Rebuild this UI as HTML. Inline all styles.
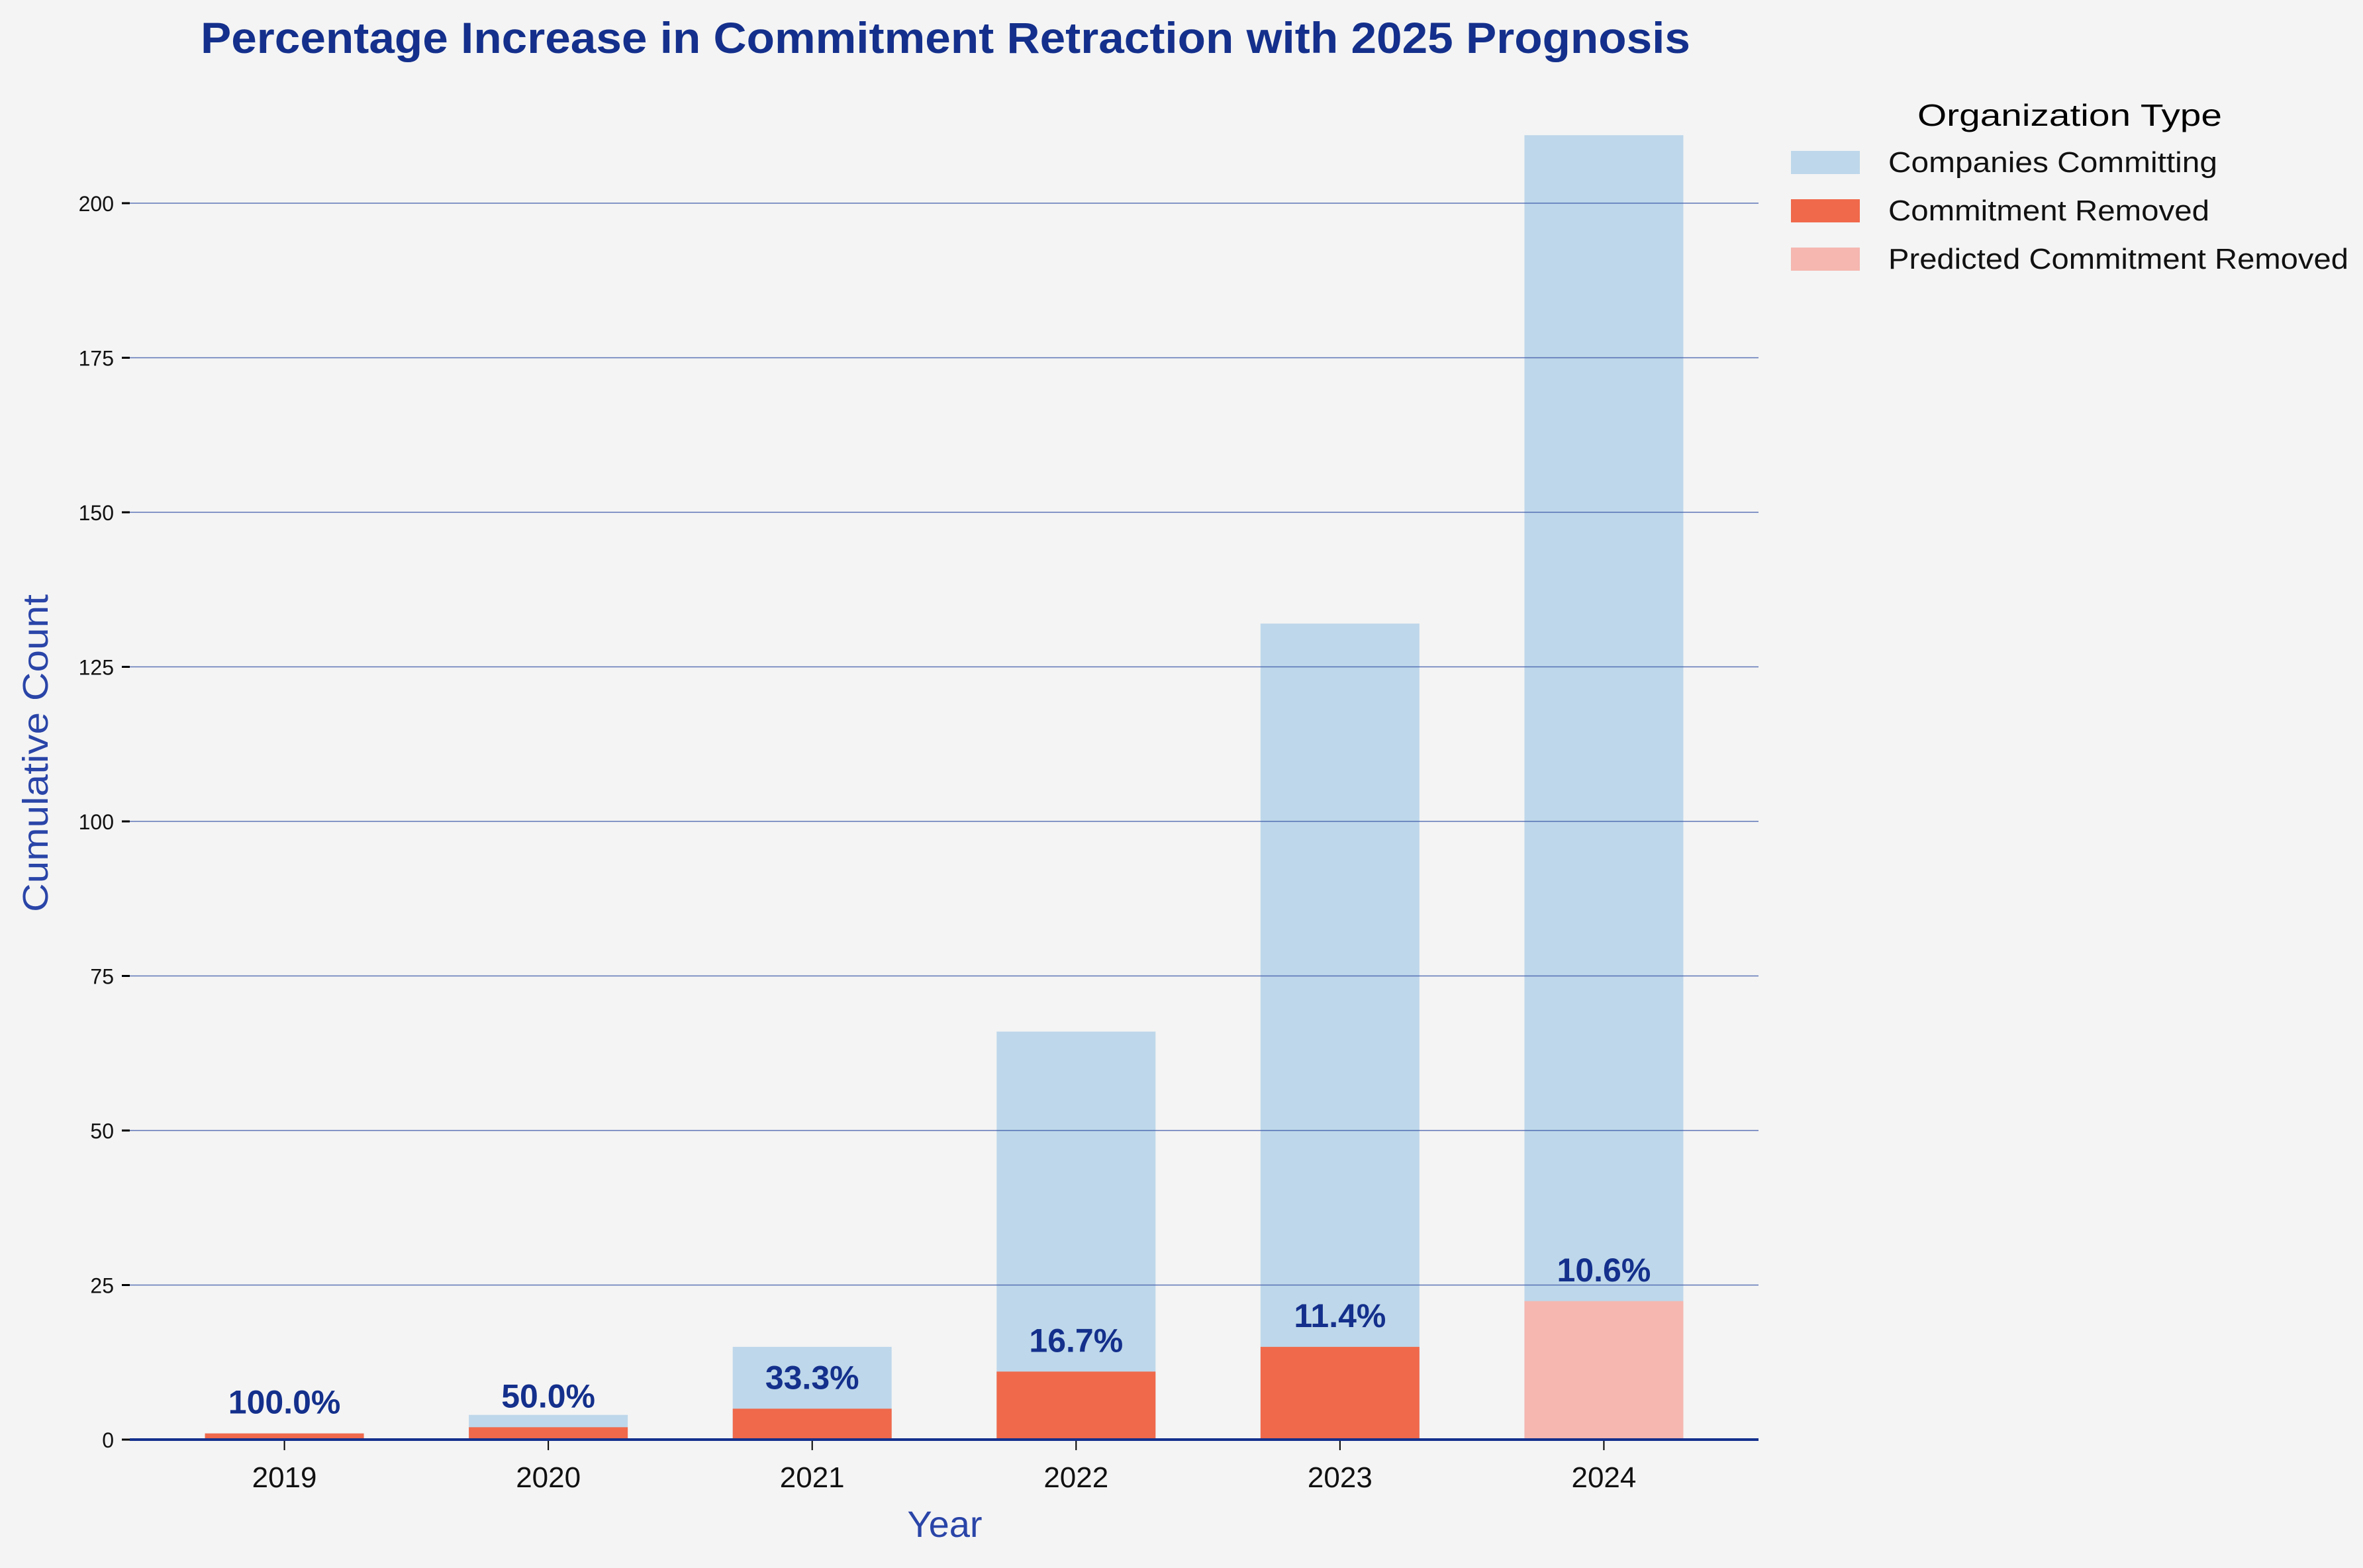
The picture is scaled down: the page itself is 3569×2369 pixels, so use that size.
<!DOCTYPE html>
<html><head><meta charset="utf-8"><style>
html,body{margin:0;padding:0;background:#f4f4f4;}
svg{display:block;font-family:"Liberation Sans",sans-serif;}
</style></head><body>
<svg id="chart" width="3569" height="2369" viewBox="0 0 3569 2369">
<rect width="3569" height="2369" fill="#f4f4f4"/>
<text x="1428" y="80" text-anchor="middle" font-size="66" font-weight="bold" fill="#14308c" textLength="2250" lengthAdjust="spacingAndGlyphs">Percentage Increase in Commitment Retraction with 2025 Prognosis</text>
<g id="bars"></g>
<g id="grid"></g>
<g id="labels"></g>
<text x="72" y="1138" text-anchor="middle" font-size="54" fill="#2a45a8" transform="rotate(-90 72 1138)" textLength="480" lengthAdjust="spacingAndGlyphs">Cumulative Count</text>
<text x="1427" y="2322" text-anchor="middle" font-size="56" fill="#2a45a8">Year</text>
<g>
<text x="3126" y="190" text-anchor="middle" font-size="46" fill="#000" textLength="460" lengthAdjust="spacingAndGlyphs">Organization Type</text>
<rect x="2705" y="228" width="104" height="35" fill="#bed7ea"/>
<text x="2852" y="260" font-size="44" fill="#111" textLength="497" lengthAdjust="spacingAndGlyphs">Companies Committing</text>
<rect x="2705" y="301" width="104" height="35" fill="#f0694b"/>
<text x="2852" y="333" font-size="44" fill="#111" textLength="485" lengthAdjust="spacingAndGlyphs">Commitment Removed</text>
<rect x="2705" y="374" width="104" height="35" fill="#f5b7b0"/>
<text x="2852" y="406" font-size="44" fill="#111" textLength="695" lengthAdjust="spacingAndGlyphs">Predicted Commitment Removed</text>
</g>
</svg>
<script>
const years = ["2019","2020","2021","2022","2023","2024"];
const committing = [1, 4, 15, 66, 132, 211];
const removed = [1, 2, 5, 11, 15, null];
const predicted = [null, null, null, null, null, 22.4];
const pctLabels = ["100.0%","50.0%","33.3%","16.7%","11.4%","10.6%"];
const yTicks = [0, 25, 50, 75, 100, 125, 150, 175, 200];

const NS = "http://www.w3.org/2000/svg";
const x0 = 196, x1 = 2656, yBase = 2175, pxPerUnit = 9.34;
const pad = 0.586;
const step = (x1 - x0) / (years.length - 1 + 2 * pad);
const barW = 240;
function xc(i){ return x0 + step * (i + pad); }
function y(v){ return yBase - v * pxPerUnit; }
function mk(tag, attrs, parent){
  const e = document.createElementNS(NS, tag);
  for (const k in attrs) e.setAttribute(k, attrs[k]);
  parent.appendChild(e);
  return e;
}
const bars = document.getElementById("bars");
const grid = document.getElementById("grid");
const labels = document.getElementById("labels");

years.forEach((yr, i) => {
  const c = mk("rect", {x: xc(i)-barW/2, y: y(committing[i]), width: barW, height: yBase - y(committing[i]), fill: "#bed7ea"}, bars);
  
  
  let top = 0;
  if (removed[i] != null) {
    const r = mk("rect", {x: xc(i)-barW/2, y: y(removed[i]), width: barW, height: yBase - y(removed[i]), fill: "#f0694b"}, bars);
    
    
    top = removed[i];
  }
  if (predicted[i] != null) {
    const p = mk("rect", {x: xc(i)-barW/2, y: y(predicted[i]), width: barW, height: yBase - y(predicted[i]), fill: "#f5b7b0"}, bars);
    
    
    top = predicted[i];
  }
  const t = mk("text", {x: xc(i), y: y(top) - 30, "text-anchor": "middle", "font-size": "50", "font-weight": "bold", fill: "#14308c"}, labels);
  t.textContent = pctLabels[i];
  
  
  const tk = mk("line", {x1: xc(i), x2: xc(i), y1: yBase, y2: yBase + 16, stroke: "#000", "stroke-width": 2}, grid);
  
  
  const xl = mk("text", {x: xc(i), y: 2247, "text-anchor": "middle", "font-size": "44", fill: "#111"}, labels);
  xl.textContent = yr;
  
  
});

yTicks.forEach(v => {
  if (v > 0) {
    const g = mk("line", {x1: x0, x2: x1, y1: y(v), y2: y(v), stroke: "#3a56a8", "stroke-width": 1.5, "stroke-opacity": 0.8}, grid);
    
    
  }
  const tk = mk("line", {x1: x0 - 12, x2: x0, y1: y(v), y2: y(v), stroke: "#000", "stroke-width": 3}, grid);
  
  
  const tl = mk("text", {x: x0 - 24, y: y(v) + 12, "text-anchor": "end", "font-size": "32", fill: "#111"}, labels);
  tl.textContent = v;
  
  
});

const ax = mk("line", {x1: x0, x2: x1, y1: yBase, y2: yBase, stroke: "#14308c", "stroke-width": 4}, grid);


</script>
</body></html>
